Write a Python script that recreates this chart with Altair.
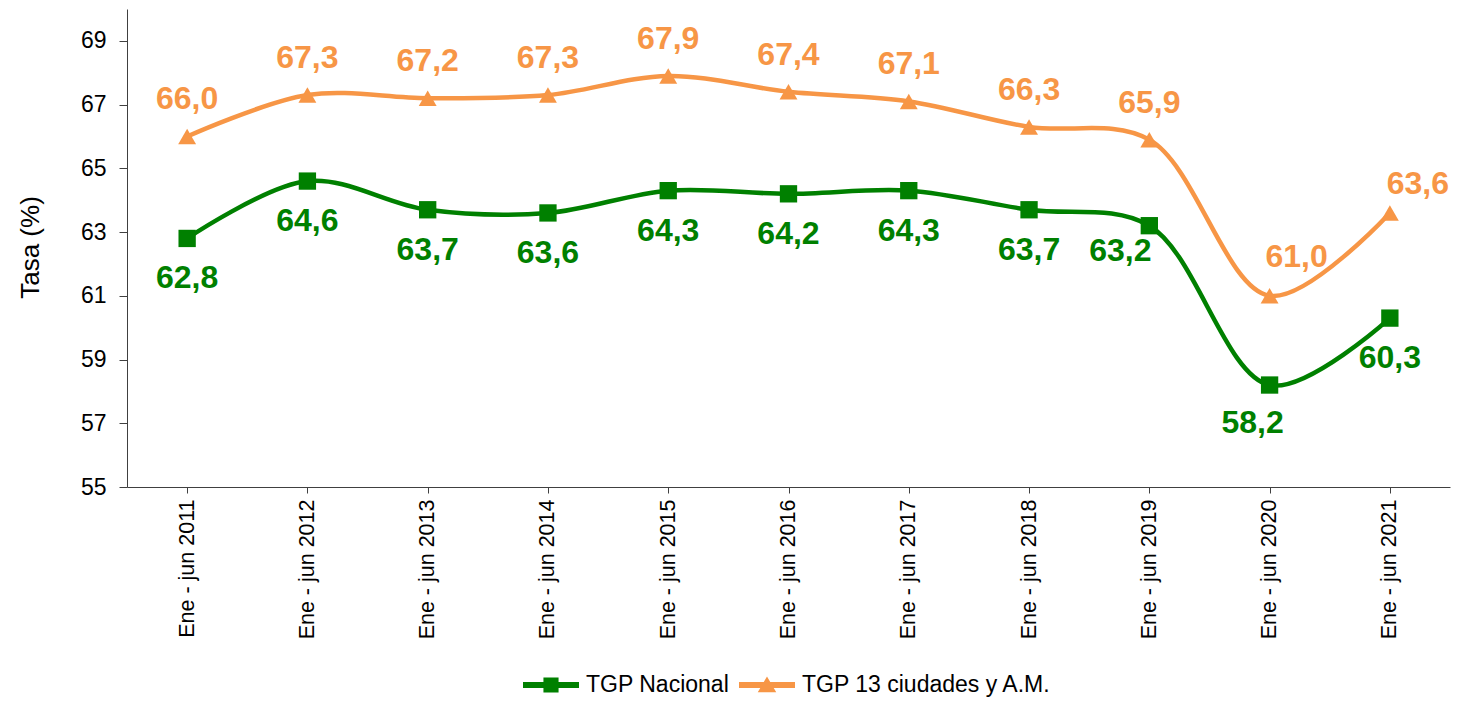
import altair as alt
import pandas as pd

categorias = ["Ene - jun 2011", "Ene - jun 2012", "Ene - jun 2013", "Ene - jun 2014",
              "Ene - jun 2015", "Ene - jun 2016", "Ene - jun 2017", "Ene - jun 2018",
              "Ene - jun 2019", "Ene - jun 2020", "Ene - jun 2021"]
nacional = [62.8, 64.6, 63.7, 63.6, 64.3, 64.2, 64.3, 63.7, 63.2, 58.2, 60.3]
ciudades = [66.0, 67.3, 67.2, 67.3, 67.9, 67.4, 67.1, 66.3, 65.9, 61.0, 63.6]
series = ["TGP Nacional", "TGP 13 ciudades y A.M."]
colores = ["#008000", "#F79646"]
y_ticks = [55, 57, 59, 61, 63, 65, 67, 69]

rows = []
for c, v in zip(categorias, nacional):
    rows.append({"cat": c, "serie": series[0], "valor": v})
for c, v in zip(categorias, ciudades):
    rows.append({"cat": c, "serie": series[1], "valor": v})
df = pd.DataFrame(rows)

FONT = "Liberation Sans"
sq_path = "M-1,-0.105H1V0.105H-1Z M-0.27,-0.27H0.27V0.27H-0.27Z"
tri_path = "M-1,-0.105H1V0.105H-1Z M0,-0.3L0.33,0.26H-0.33Z"

leg = alt.Legend(
    title=None, orient="none", legendX=396, legendY=648, direction="horizontal",
    symbolSize=3136, labelFontSize=23, labelFont=FONT, labelColor="black",
    labelOffset=7, columnPadding=9, padding=0, symbolStrokeWidth=0, symbolOpacity=1,
    labelLimit=0,
)
color = alt.Color("serie:N", scale=alt.Scale(domain=series, range=colores), legend=leg)

x = alt.X("cat:N", sort=categorias, title=None,
          scale=alt.Scale(paddingInner=0, paddingOuter=0.0),
          axis=alt.Axis(labelAngle=-90, labelFontSize=21.5, labelFont=FONT, labelColor="black",
                        domainColor="#404040", tickColor="#404040", tickSize=6, labelPadding=6,
                        grid=False))
y = alt.Y("valor:Q", scale=alt.Scale(domain=[55, 70], nice=False, zero=False),
          axis=alt.Axis(values=y_ticks, title="Tasa (%)", titleFontSize=26, titleFont=FONT,
                        titleFontWeight="normal", titleColor="black", titleX=-97, titleY=238,
                        titleAlign="center", titleBaseline="middle", titleAngle=270,
                        labelFontSize=23, labelFont=FONT, labelColor="black", labelPadding=13,
                        tickSize=8, domainColor="#404040", tickColor="#404040", grid=False))

base = alt.Chart(df).encode(x=x, y=y)

line = base.mark_line(interpolate="catmull-rom", strokeWidth=4.5).encode(color=color)
pts_g = base.transform_filter("datum.serie === 'TGP Nacional'").mark_point(
    filled=True, size=300, opacity=1, shape="square").encode(color=color)
pts_o = base.transform_filter("datum.serie !== 'TGP Nacional'").mark_point(
    filled=True, size=320, opacity=1, shape="triangle-up").encode(color=color)
legend_layer = base.transform_filter("false").mark_point(filled=True, opacity=1).encode(
    color=color,
    shape=alt.Shape("serie:N", scale=alt.Scale(domain=series, range=[sq_path, tri_path]), legend=leg),
)

lab = base.transform_calculate(
    etiqueta="replace(format(datum.valor, '.1f'), '.', ',')"
)

def txt(filt, col, dx, dy):
    return lab.transform_filter(filt).mark_text(
        fontSize=32, fontWeight="bold", font=FONT, color=col, dx=dx, dy=dy,
        align="center", baseline="middle"
    ).encode(text="etiqueta:N")

g = "datum.serie === 'TGP Nacional'"
o = "datum.serie !== 'TGP Nacional'"
texts = [
    txt(g + " && datum.cat !== 'Ene - jun 2019' && datum.cat !== 'Ene - jun 2020'", colores[0], 0, 40),
    txt(g + " && datum.cat === 'Ene - jun 2019'", colores[0], -29, 25),
    txt(g + " && datum.cat === 'Ene - jun 2020'", colores[0], -17, 38),
    txt(o + " && datum.cat !== 'Ene - jun 2020' && datum.cat !== 'Ene - jun 2021'", colores[1], 0, -37),
    txt(o + " && datum.cat === 'Ene - jun 2020'", colores[1], 27, -39),
    txt(o + " && datum.cat === 'Ene - jun 2021'", colores[1], 28, -29),
]

chart = alt.layer(line, pts_g, pts_o, legend_layer, *texts).properties(
    width=1323, height=478,
    autosize=alt.AutoSizeParams(type="none"),
    padding={"left": 119, "top": 1, "right": 1, "bottom": 212},
).configure_view(stroke=None)

chart.save("out.html", embed_options={"renderer": "svg", "actions": False})
